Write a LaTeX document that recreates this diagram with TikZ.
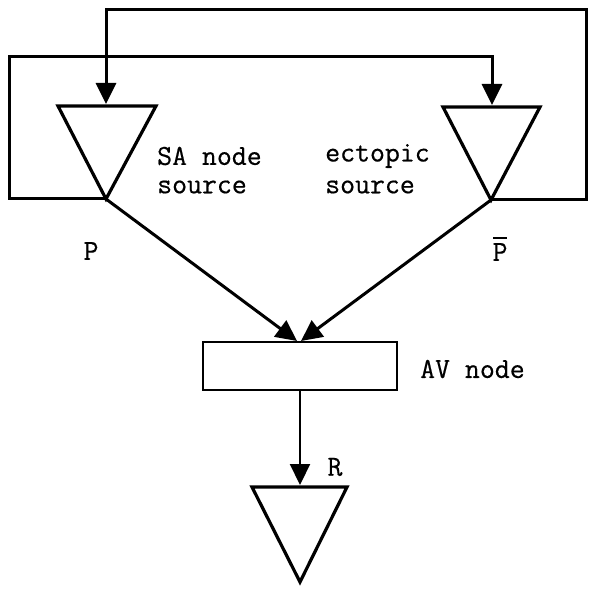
\documentclass[tikz,border=0pt]{standalone}
\usepackage{fontspec}
\setmonofont[FakeBold=0.5]{Latin Modern Mono}
\usetikzlibrary{arrows.meta}
\begin{document}
\begin{tikzpicture}[x=1pt,y=-1pt,
  wire/.style={line width=3pt, line join=miter},
  flow/.style={wire, -{Triangle[length=21pt,width=20pt]}},
  tri/.style={line width=3.2pt, line join=miter},
  boxline/.style={line width=2.4pt},
  lbl/.style={font=\ttfamily\fontsize{29}{31}\selectfont, inner sep=0pt},
]
\useasboundingbox (0,0) rectangle (589,593);

% SA node source triangle
\coordinate (saL) at (58,106);
\coordinate (saR) at (156,106);
\coordinate (saApex) at (106,199);
\coordinate (saIn) at (106,104);
% ectopic source triangle
\coordinate (ecL) at (443,107);
\coordinate (ecR) at (540,107);
\coordinate (ecApex) at (491,200);
\coordinate (ecIn) at (492,105);
% ventricular triangle
\coordinate (vL) at (252,487);
\coordinate (vR) at (347,487);
\coordinate (vApex) at (300,582);
\coordinate (vIn) at (300,485);

\draw[tri] (saL) -- (saR) -- (saApex) -- cycle;
\draw[tri] (ecL) -- (ecR) -- (ecApex) -- cycle;
\draw[tri] (vL) -- (vR) -- (vApex) -- cycle;

% AV node box
\node[draw, boxline, minimum width=194pt, minimum height=48pt, inner sep=0pt]
  (av) at (300,366) {};

% feedback loops
\coordinate (ecOutR) at (586,200);
\coordinate (ecOutT) at (586,10);
\coordinate (saInT) at (106,10);
\draw[flow] (ecApex) -- (ecOutR) -- (ecOutT) -- (saInT) -- (saIn);

\coordinate (saOutL) at (9,199);
\coordinate (saOutT) at (9,57);
\coordinate (ecInT) at (492,57);
\draw[flow] (saApex) -- (saOutL) -- (saOutT) -- (ecInT) -- (ecIn);

% conduction to the AV node and on to the ventricles
\coordinate (avInL) at (297,341);
\coordinate (avInR) at (301,341);
\draw[flow] (saApex) -- (avInL);
\draw[flow] (ecApex) -- (avInR);
\draw[flow, line width=2.2pt] (av.south) -- (vIn);

% labels
\node[lbl] (pLbl) at (91,251) {P};
\node[lbl] (pbLbl) at (500,252) {P};
% bar over the complementary P
\draw[line width=2.6pt] ([xshift=-7pt,yshift=5pt]pbLbl.north) -- ([xshift=7pt,yshift=5pt]pbLbl.north);
\node[lbl, anchor=west] (saText1) at (157,156) {SA node};
\node[lbl, anchor=west] (saText2) at (157,187) {source};
\node[lbl, anchor=west] (ecText1) at (325,156) {ectopic};
\node[lbl, anchor=west] (ecText2) at (325,187) {source};
\node[lbl, anchor=west] (avText) at (420,369) {AV node};
\node[lbl] (rLbl) at (335,467) {R};
\end{tikzpicture}
\end{document}
